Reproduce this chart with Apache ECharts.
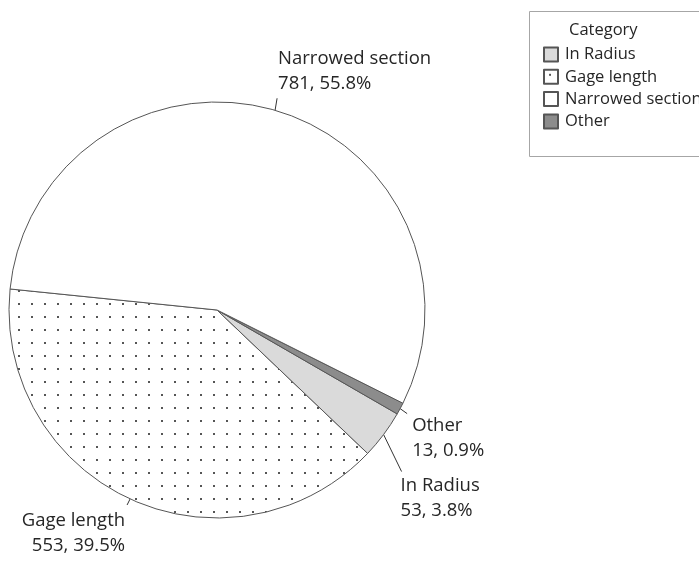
<!DOCTYPE html>
<html>
<head>
<meta charset="utf-8">
<script src="https://cdn.jsdelivr.net/npm/echarts@6/dist/echarts.min.js"></script>
<style>
  html, body { margin: 0; padding: 0; background: #fff; }
  #chart { width: 699px; height: 561px; }
</style>
</head>
<body>
<div id="chart"></div>
<script>
// slice order as drawn, counter-clockwise from the left edge
const categories = ['Gage length', 'In Radius', 'Other', 'Narrowed section']
const counts = [553, 53, 13, 781]
const legendOrder = ['In Radius', 'Gage length', 'Narrowed section', 'Other']

// leader line vector from slice edge, then text offset from line end
const labelPlace = [
  { lx: -3, ly: 6, tx: -2, ty: 3, align: 'right', va: 'top' },
  { lx: 18, ly: 37, tx: -1, ty: 2, align: 'left', va: 'top' },
  { lx: 7, ly: 5, tx: 5, ty: 0, align: 'left', va: 'top' },
  { lx: 2, ly: -12, tx: 1, ty: -2, align: 'left', va: 'bottom' }
]

function dotPattern() {
  const c = document.createElement('canvas')
  c.width = 13
  c.height = 13
  const ctx = c.getContext('2d')
  ctx.fillStyle = '#fff'
  ctx.fillRect(0, 0, 13, 13)
  ctx.fillStyle = '#555'
  ctx.fillRect(5, 4, 2, 2)
  return c
}

const fills = {
  'Gage length': { image: dotPattern(), repeat: 'repeat' },
  'In Radius': '#dadada',
  'Other': '#8c8c8c',
  'Narrowed section': '#ffffff'
}

const font = '"Open Sans", "Noto Sans", sans-serif'
const chart = echarts.init(document.getElementById('chart'))

chart.setOption({
  animation: false,
  title: {
    text: 'Category', left: 564, top: 17,
    textStyle: { fontFamily: font, fontSize: 16.5, fontWeight: 'normal', color: '#262626' }
  },
  graphic: [{
    type: 'rect', shape: { x: 529.5, y: 11.5, width: 220, height: 145 },
    style: { fill: 'none', stroke: '#a6a6a6', lineWidth: 1 }, silent: true
  }],
  legend: {
    orient: 'vertical', left: 538, top: 41,
    data: legendOrder, icon: 'rect', itemWidth: 14, itemHeight: 14, itemGap: 5.3,
    selectedMode: false,
    textStyle: { fontFamily: font, fontSize: 16.5, lineHeight: 14, color: '#262626', padding: [0, 0, 0, 2] }
  },
  series: [{
    type: 'pie',
    center: [217, 310],
    radius: 208,
    startAngle: 174.2,
    clockwise: false,
    avoidLabelOverlap: false,
    emphasis: { disabled: true },
    itemStyle: { borderColor: '#555', borderWidth: 1 },
    label: {
      show: true, position: 'outside',
      fontFamily: font, fontSize: 18.5, lineHeight: 25, color: '#262626',
      formatter: p => p.name + '\n' + p.value + ', ' + p.percent.toFixed(1) + '%'
    },
    labelLine: { show: true, length: 8, length2: 0, lineStyle: { color: '#333', width: 1 } },
    labelLayout: p => {
      const o = labelPlace[p.dataIndex]
      const s = p.labelLinePoints[0]
      const e = [s[0] + o.lx, s[1] + o.ly]
      return {
        x: e[0] + o.tx, y: e[1] + o.ty, align: o.align, verticalAlign: o.va,
        labelLinePoints: [s, e, e]
      }
    },
    data: categories.map((name, i) => ({
      name, value: counts[i], itemStyle: { color: fills[name] }
    }))
  }]
})
</script>
</body>
</html>
